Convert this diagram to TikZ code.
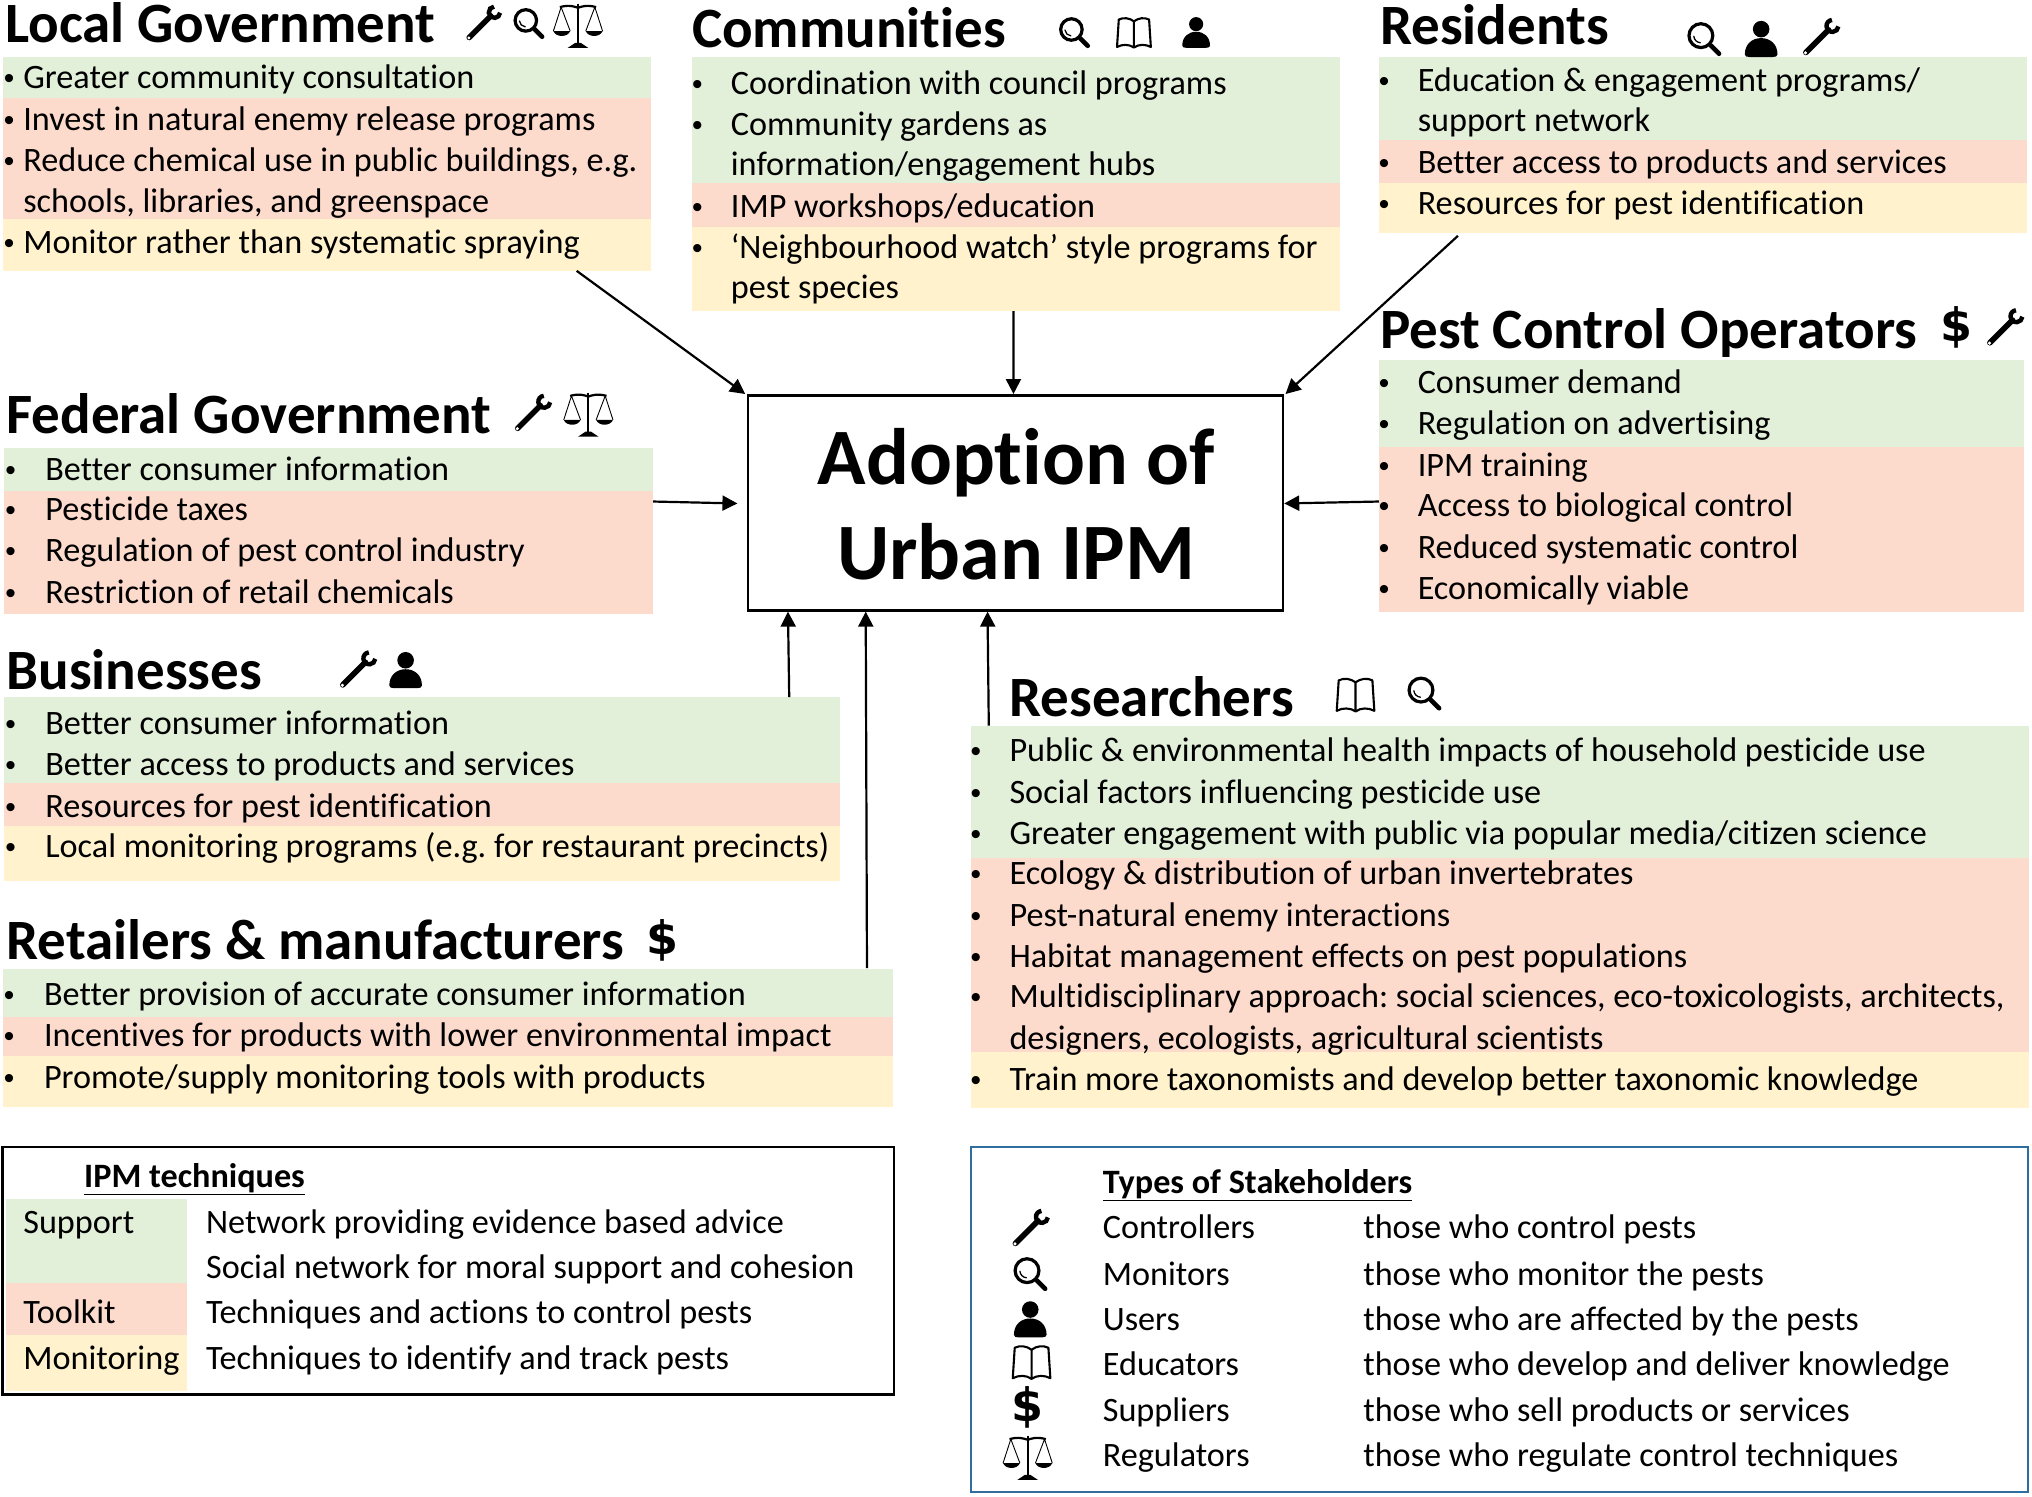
\documentclass[tikz,border=0pt]{standalone}
\usepackage{fontspec}
\setmainfont{Carlito}[Ligatures=NoCommon]
\newfontfamily\dollarfont{DejaVu Sans}
\newfontfamily\bulletfont{Liberation Sans}
\usetikzlibrary{fit,calc,arrows.meta}
\definecolor{bgreen}{HTML}{E2EFD9}
\definecolor{bred}{HTML}{FCDACC}
\definecolor{byellow}{HTML}{FFF2CC}
\definecolor{bluebox}{HTML}{2F6E9E}
\tikzset{
  x=1.2959pt,y=1.2959pt,
  band/.style={inner sep=0pt,outer sep=0pt,draw=none},
  body/.style={anchor=base west,inner sep=0pt,outer sep=0pt,font=\fontsize{34.2}{34.2}\selectfont,yshift=-11.2pt},
  bull/.style={body,xshift=-2.5pt,font=\bulletfont\fontsize{30}{30}\selectfont},
  ttl/.style={anchor=base west,inner sep=0pt,outer sep=0pt,font=\fontsize{57}{57}\selectfont\bfseries,yshift=-2.2pt},
  leghead/.style={body,font=\fontsize{34.2}{34.2}\selectfont\bfseries},
  bigttl/.style={anchor=base,inner sep=0pt,font=\fontsize{80}{80}\selectfont\bfseries,yshift=-2pt},
  arr/.style={line width=2.2pt,-{Triangle[length=15pt,width=15pt]}},
  wrenchicon/.pic={
    \draw[line width=5.6pt,line cap=round] (-11.5,-11.5) -- (6,6);
    \draw[line width=4.4pt] (9,9) ++(95:4.6) arc (95:355:4.6);
    \fill[white] (-11.8,-11.8) circle (1.3);
  },
  lensicon/.pic={
    \draw[line width=3.2pt] (-2.5,2.5) circle (9.2);
    \draw[line width=1.3pt,line cap=round] (-2.5,2.5) ++(185:5.5) arc (185:265:5.5);
    \draw[line width=4.6pt,line cap=round] (5,-5) -- (11.5,-11.5);
  },
  usericon/.pic={
    \fill (0,7.5) circle (6.4);
    \fill (-12.6,-12) .. controls (-12.6,-4) and (-7,0.6) .. (0,0.6) .. controls (7,0.6) and (12.6,-4) .. (12.6,-12) .. controls (12.6,-13.5) and (11,-14) .. (9,-14) -- (-9,-14) .. controls (-11,-14) and (-12.6,-13.5) .. (-12.6,-12) -- cycle;
  },
  bookicon/.pic={
    \draw[line width=2.1pt,line join=round] (0,9.5) .. controls (-4,12.5) and (-9,13) .. (-13,11) -- (-14.5,-12.5) .. controls (-10,-10) and (-4,-10) .. (0,-13) .. controls (4,-10) and (10,-10) .. (14.5,-12.5) -- (13,11) .. controls (9,13) and (4,12.5) .. (0,9.5) -- (0,-13);
  },
  dollaricon/.pic={
    \node[inner sep=0pt,font=\dollarfont\bfseries\fontsize{46}{46}\selectfont] {\$};
  },
  scaleicon/.pic={
    \draw[line width=2pt] (0,16) -- (0,-15);
    \fill (-8,-18) -- (8,-18) -- (2,-14) -- (-2,-14) -- cycle;
    \draw[line width=2.2pt] (-14,13.5) .. controls (-7,15.5) and (-3,14) .. (0,13) .. controls (3,14) and (7,15.5) .. (14,13.5);
    \draw[line width=.9pt] (-19,-5) -- (-13,13.5) -- (-6,-5);
    \draw[line width=.9pt] (19,-5) -- (13,13.5) -- (6,-5);
    \fill (-19,-5) .. controls (-17,-10) and (-8,-10) .. (-6,-5) -- cycle;
    \fill (19,-5) .. controls (17,-10) and (8,-10) .. (6,-5) -- cycle;
  },
}
\begin{document}
\begin{tikzpicture}
\useasboundingbox (0,0) rectangle (1568,-1154.4);
%%% bands
\node[band,fill=bgreen,fit={(2,-44)(502,-76)}] (lgG) {};
\node[band,fill=bred,fit={(2,-76)(502,-169)}] (lgR) {};
\node[band,fill=byellow,fit={(2,-169)(502,-209)}] (lgY) {};
\node[band,fill=bgreen,fit={(534,-44)(1034,-141)}] (coG) {};
\node[band,fill=bred,fit={(534,-141)(1034,-175)}] (coR) {};
\node[band,fill=byellow,fit={(534,-175)(1034,-240)}] (coY) {};
\node[band,fill=bgreen,fit={(1064,-44)(1564,-108)}] (reG) {};
\node[band,fill=bred,fit={(1064,-108)(1564,-141)}] (reR) {};
\node[band,fill=byellow,fit={(1064,-141)(1564,-180)}] (reY) {};
\node[band,fill=bgreen,fit={(1064,-278)(1562,-345)}] (pcG) {};
\node[band,fill=bred,fit={(1064,-345)(1562,-472)}] (pcR) {};
\node[band,fill=bgreen,fit={(3,-346)(504,-379)}] (feG) {};
\node[band,fill=bred,fit={(3,-379)(504,-474)}] (feR) {};
\node[band,fill=bgreen,fit={(3,-538)(648,-604)}] (buG) {};
\node[band,fill=bred,fit={(3,-604)(648,-637)}] (buR) {};
\node[band,fill=byellow,fit={(3,-637)(648,-680)}] (buY) {};
\node[band,fill=bgreen,fit={(2,-748)(689,-785)}] (rtG) {};
\node[band,fill=bred,fit={(2,-785)(689,-815)}] (rtR) {};
\node[band,fill=byellow,fit={(2,-815)(689,-854)}] (rtY) {};
\node[band,fill=bgreen,fit={(749,-560)(1566,-662)}] (rsG) {};
\node[band,fill=bred,fit={(749,-662)(1566,-812)}] (rsR) {};
\node[band,fill=byellow,fit={(749,-812)(1566,-855)}] (rsY) {};
%%% main box
\node[draw,line width=2.5pt,inner sep=0pt,fit={(577,-305)(990,-471)}] (main) {};
\node[bigttl] (mainA) at (784,-372) {Adoption of};
\node[bigttl] (mainB) at (784,-446) {Urban IPM};
%%% connectors
\draw[arr] ($(lgY.south west)+(443,0)$) -- ($(main.north west)+(-1,0)$);
\draw[arr] ($(coY.south west)+(248,0)$) -- ($(main.north west)+(206,0)$);
\draw[arr] ($(reY.south west)+(61,-2)$) -- ($(main.north east)+(1,0)$);
\draw[arr] (pcR.west |- 0,-387) -- ($(main.east)+(0,-0.5)$);
\draw[arr] (feR.east |- 0,-387) -- ($(main.west)+(-7,-0.5)$);
\draw[arr] ($(buG.north west)+(606,0)$) -- ($(main.south west)+(32,0)$);
\draw[arr] ($(rtG.north west)+(667,1)$) -- ($(main.south west)+(92,0)$);
\draw[arr] ($(rsG.north west)+(14,0)$) -- ($(main.south west)+(186,0)$);
%%% Local Government
\node[ttl] (tLG) at (4,-31) {Local Government};
\pic[scale=.95] at (373,-18) {wrenchicon};
\pic[scale=.9] at (408,-18) {lensicon};
\pic at (446,-19) {scaleicon};
\node[bull] (b1) at (5,-60) {•}; \node[body] (l1) at (18,-60) {Greater community consultation};
\node[bull] (b2) at (5,-92) {•}; \node[body] (l2) at (18,-92) {Invest in natural enemy release programs};
\node[bull] (b3) at (5,-124) {•}; \node[body] (l3) at (18,-124) {Reduce chemical use in public buildings, e.g.};
\node[body] (l4) at (18,-155) {schools, libraries, and greenspace};
\node[bull] (b4) at (5,-187) {•}; \node[body] (l5) at (18,-187) {Monitor rather than systematic spraying};
%%% Communities
\node[ttl] (tCO) at (534,-35) {Communities};
\pic[scale=.9] at (829,-25) {lensicon};
\pic[scale=.9] at (875,-25) {bookicon};
\pic[scale=.85] at (923,-25) {usericon};
\node[bull] (b5) at (536,-64) {•}; \node[body] (l6) at (564,-64) {Coordination with council programs};
\node[bull] (b6) at (536,-96) {•}; \node[body] (l7) at (564,-96) {Community gardens as};
\node[body] (l8) at (564,-127) {information/engagement hubs};
\node[bull] (b7) at (536,-159) {•}; \node[body] (l9) at (564,-159) {IMP workshops/education};
\node[bull] (b8) at (536,-191) {•}; \node[body] (l10) at (564,-191) {‘Neighbourhood watch’ style programs for};
\node[body] (l11) at (564,-222) {pest species};
%%% Residents
\node[ttl] (tRE) at (1065,-33) {Residents};
\pic at (1315,-30) {lensicon};
\pic at (1359,-30) {usericon};
\pic at (1405,-29) {wrenchicon};
\node[bull] (b9) at (1066,-62) {•}; \node[body] (l12) at (1094,-62) {Education \& engagement programs/};
\node[body] (l13) at (1094,-93) {support network};
\node[bull] (b10) at (1066,-125) {•}; \node[body] (l14) at (1094,-125) {Better access to products and services};
\node[bull] (b11) at (1066,-157) {•}; \node[body] (l15) at (1094,-157) {Resources for pest identification};
%%% Pest Control Operators
\node[ttl] (tPC) at (1065,-267) {Pest Control Operators};
\pic at (1510,-253) {dollaricon};
\pic at (1547,-253) {wrenchicon};
\node[bull] (b12) at (1066,-295) {•}; \node[body] (l16) at (1094,-295) {Consumer demand};
\node[bull] (b13) at (1066,-327) {•}; \node[body] (l17) at (1094,-327) {Regulation on advertising};
\node[bull] (b14) at (1066,-359) {•}; \node[body] (l18) at (1094,-359) {IPM training};
\node[bull] (b15) at (1066,-390) {•}; \node[body] (l19) at (1094,-390) {Access to biological control};
\node[bull] (b16) at (1066,-422) {•}; \node[body] (l20) at (1094,-422) {Reduced systematic control};
\node[bull] (b17) at (1066,-454) {•}; \node[body] (l21) at (1094,-454) {Economically viable};
%%% Federal Government
\node[ttl] (tFE) at (5,-333) {Federal Government};
\pic at (411,-319) {wrenchicon};
\pic at (454,-319) {scaleicon};
\node[bull] (b18) at (6,-362) {•}; \node[body] (l22) at (35,-362) {Better consumer information};
\node[bull] (b19) at (6,-393) {•}; \node[body] (l23) at (35,-393) {Pesticide taxes};
\node[bull] (b20) at (6,-425) {•}; \node[body] (l24) at (35,-425) {Regulation of pest control industry};
\node[bull] (b21) at (6,-457) {•}; \node[body] (l25) at (35,-457) {Restriction of retail chemicals};
%%% Businesses
\node[ttl] (tBU) at (5,-530) {Businesses};
\pic at (276,-517) {wrenchicon};
\pic at (313,-517) {usericon};
\node[bull] (b22) at (6,-558) {•}; \node[body] (l26) at (35,-558) {Better consumer information};
\node[bull] (b23) at (6,-590) {•}; \node[body] (l27) at (35,-590) {Better access to products and services};
\node[bull] (b24) at (6,-622) {•}; \node[body] (l28) at (35,-622) {Resources for pest identification};
\node[bull] (b25) at (6,-653) {•}; \node[body] (l29) at (35,-653) {Local monitoring programs (e.g.\ for restaurant precincts)};
%%% Retailers
\node[ttl] (tRT) at (5,-739) {Retailers \& manufacturers};
\pic at (511,-726) {dollaricon};
\node[bull] (b26) at (5,-767) {•}; \node[body] (l30) at (34,-767) {Better provision of accurate consumer information};
\node[bull] (b27) at (5,-799) {•}; \node[body] (l31) at (34,-799) {Incentives for products with lower environmental impact};
\node[bull] (b28) at (5,-831) {•}; \node[body] (l32) at (34,-831) {Promote/supply monitoring tools with products};
%%% Researchers
\node[ttl] (tRS) at (779,-551) {Researchers};
\pic at (1046,-536) {bookicon};
\pic at (1099,-535) {lensicon};
\node[bull] (b29) at (751,-579) {•}; \node[body] (l33) at (779,-579) {Public \& environmental health impacts of household pesticide use};
\node[bull] (b30) at (751,-611) {•}; \node[body] (l34) at (779,-611) {Social factors influencing pesticide use};
\node[bull] (b31) at (751,-643) {•}; \node[body] (l35) at (779,-643) {Greater engagement with public via popular media/citizen science};
\node[bull] (b32) at (751,-674) {•}; \node[body] (l36) at (779,-674) {Ecology \& distribution of urban invertebrates};
\node[bull] (b33) at (751,-706) {•}; \node[body] (l37) at (779,-706) {Pest-natural enemy interactions};
\node[bull] (b34) at (751,-738) {•}; \node[body] (l38) at (779,-738) {Habitat management effects on pest populations};
\node[bull] (b35) at (751,-769) {•}; \node[body] (l39) at (779,-769) {Multidisciplinary approach:\ social sciences, eco-toxicologists, architects,};
\node[body] (l40) at (779,-801) {designers, ecologists, agricultural scientists};
\node[bull] (b36) at (751,-833) {•}; \node[body] (l41) at (779,-833) {Train more taxonomists and develop better taxonomic knowledge};
%%% Legend left
\node[draw,line width=2.2pt,inner sep=0pt,fit={(2,-885)(690,-1076)}] (legL) {};
\node[band,fill=bgreen,fit={(5,-925)(144,-990)}] (lgnG) {};
\node[band,fill=bred,fit={(5,-990)(144,-1030)}] (lgnR) {};
\node[band,fill=byellow,fit={(5,-1030)(144,-1073)}] (lgnY) {};
\node[leghead] (hL) at (65,-908) {\underline{IPM techniques}};
\node[body] (s1) at (18,-943) {Support};
\node[body] (s2) at (18,-1013) {Toolkit};
\node[body] (s3) at (18,-1048) {Monitoring};
\node[body] (d1) at (159,-943) {Network providing evidence based advice};
\node[body] (d2) at (159,-978) {Social network for moral support and cohesion};
\node[body] (d3) at (159,-1013) {Techniques and actions to control pests};
\node[body] (d4) at (159,-1048) {Techniques to identify and track pests};
%%% Legend right
\node[draw=bluebox,line width=2.2pt,inner sep=0pt,fit={(749,-885)(1565,-1151)}] (legR) {};
\node[leghead] (hR) at (851,-912) {\underline{Types of Stakeholders}};
\pic at (795,-948) {wrenchicon};
\pic at (795,-983) {lensicon};
\pic at (795,-1018) {usericon};
\pic at (796,-1051) {bookicon};
\pic at (793,-1086) {dollaricon};
\pic at (793,-1124) {scaleicon};
\node[body] (t1) at (851,-947) {Controllers};
\node[body] (t2) at (851,-983) {Monitors};
\node[body] (t3) at (851,-1018) {Users};
\node[body] (t4) at (851,-1053) {Educators};
\node[body] (t5) at (851,-1088) {Suppliers};
\node[body] (t6) at (851,-1123) {Regulators};
\node[body] (w1) at (1052,-947) {those who control pests};
\node[body] (w2) at (1052,-983) {those who monitor the pests};
\node[body] (w3) at (1052,-1018) {those who are affected by the pests};
\node[body] (w4) at (1052,-1053) {those who develop and deliver knowledge};
\node[body] (w5) at (1052,-1088) {those who sell products or services};
\node[body] (w6) at (1052,-1123) {those who regulate control techniques};
\end{tikzpicture}
\end{document}
